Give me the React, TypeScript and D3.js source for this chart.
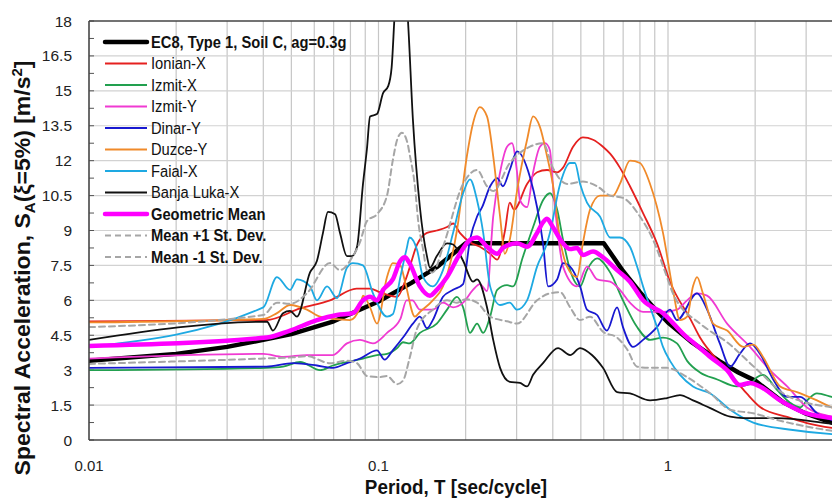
import React from 'react';
import * as d3 from 'd3';

type Pt = [number, number];

const yTicks = [0, 1.5, 3, 4.5, 6, 7.5, 9, 10.5, 12, 13.5, 15, 16.5, 18];
const xTickLabels = [0.01, 0.1, 1];

const ec8: Pt[] = [[0.01,3.4],[0.02,3.7],[0.03,4.0],[0.04,4.3],[0.05,4.55],[0.07,5.1],[0.1,5.95],[0.13,6.75],[0.16,7.45],[0.2,8.45],[0.6,8.45],[0.7,7.25],[0.8,6.35],[0.9,5.64],[1.0,5.05],[1.2,4.23],[1.5,3.4],[1.75,2.9],[2.0,2.55],[2.5,1.62],[3.0,1.13],[3.68,0.75],[4.5,0.5]];

const ionianX: Pt[] = [[0.01,5.1],[0.041,5.15],[0.0536,5.65],[0.068,6.0],[0.084,6.5],[0.0935,6.5],[0.101,6.35],[0.116,6.15],[0.125,7.0],[0.136,8.4],[0.147,8.9],[0.159,9.0],[0.1725,9.15],[0.181,9.3],[0.191,8.9],[0.207,8.5],[0.224,8.3],[0.243,8.0],[0.257,7.75],[0.2735,9.0],[0.284,10.2],[0.294,9.9],[0.326,11.0],[0.353,11.5],[0.382,11.6],[0.414,11.5],[0.434,11.7],[0.47,12.6],[0.508,13.0],[0.551,12.9],[0.596,12.6],[0.631,12.3],[0.682,11.7],[0.739,10.9],[0.82,9.75],[0.916,8.45],[1.016,6.8],[1.2,5.15],[1.29,4.4],[1.48,3.44],[1.6,3.0],[1.87,2.0],[2.08,1.42],[2.58,0.99],[3.02,0.73],[3.68,0.52],[4.5,0.4]];

const izmitX: Pt[] = [[0.01,3.0],[0.041,3.1],[0.0468,3.15],[0.0536,3.35],[0.0628,3.0],[0.0696,3.2],[0.0778,3.35],[0.0884,3.5],[0.0988,3.65],[0.107,3.7],[0.116,3.95],[0.1215,4.2],[0.128,4.15],[0.139,4.6],[0.159,5.0],[0.1725,5.6],[0.1866,6.15],[0.196,5.7],[0.207,4.6],[0.219,5.0],[0.23,4.6],[0.243,5.3],[0.257,6.45],[0.278,6.65],[0.2915,6.6],[0.315,7.85],[0.342,9.15],[0.37,10.3],[0.391,10.6],[0.414,9.9],[0.434,8.6],[0.459,7.3],[0.497,6.6],[0.525,7.3],[0.569,7.8],[0.631,7.2],[0.699,6.0],[0.782,4.85],[0.867,4.3],[0.961,4.4],[1.074,4.15],[1.164,3.4],[1.29,2.9],[1.48,2.6],[1.73,2.3],[1.92,2.4],[2.03,2.7],[2.13,2.8],[2.38,2.15],[2.64,1.6],[2.86,1.4],[3.02,1.7],[3.27,2.0],[3.68,1.85],[4.5,1.6]];

const izmitY: Pt[] = [[0.01,3.5],[0.04,3.7],[0.0468,3.57],[0.0566,3.65],[0.0696,3.65],[0.0778,4.15],[0.0863,4.3],[0.0957,4.15],[0.107,4.6],[0.119,5.2],[0.125,6.0],[0.131,6.0],[0.139,5.6],[0.154,5.6],[0.167,5.9],[0.181,5.7],[0.196,5.9],[0.212,6.45],[0.224,6.7],[0.237,6.4],[0.249,9.6],[0.263,11.5],[0.278,12.6],[0.289,12.75],[0.301,11.5],[0.308,10.3],[0.326,10.0],[0.342,11.5],[0.361,12.6],[0.376,12.75],[0.391,12.45],[0.4,11.0],[0.414,9.15],[0.434,7.45],[0.485,6.6],[0.525,7.45],[0.569,6.9],[0.631,6.8],[0.682,6.45],[0.739,5.9],[0.82,5.5],[0.961,5.5],[1.074,5.6],[1.164,6.0],[1.26,6.3],[1.365,6.2],[1.6,5.0],[1.92,4.0],[2.25,3.0],[2.58,2.3],[3.02,1.4],[3.68,1.0],[4.5,0.8]];

const dinarY: Pt[] = [[0.01,3.1],[0.041,3.15],[0.0507,3.3],[0.0613,3.2],[0.0696,3.1],[0.0778,3.3],[0.0863,3.5],[0.0988,3.85],[0.105,3.45],[0.112,3.85],[0.1215,4.4],[0.1315,5.0],[0.139,5.3],[0.147,4.8],[0.154,5.15],[0.167,6.15],[0.181,6.45],[0.196,6.7],[0.207,8.6],[0.219,9.6],[0.228,10.0],[0.243,10.9],[0.257,11.25],[0.269,10.9],[0.284,11.6],[0.301,12.4],[0.3335,11.3],[0.353,10.0],[0.37,8.45],[0.385,6.6],[0.414,6.9],[0.434,7.6],[0.459,7.45],[0.497,6.6],[0.525,5.6],[0.569,5.37],[0.615,4.7],[0.667,5.7],[0.699,4.85],[0.757,4.0],[0.82,4.3],[0.916,4.85],[1.016,5.6],[1.074,5.15],[1.26,6.3],[1.365,5.6],[1.51,4.15],[1.64,3.15],[1.77,3.7],[1.92,4.15],[2.08,3.7],[2.31,2.6],[2.58,1.85],[2.86,1.85],[3.27,1.15],[3.68,0.86],[4.5,0.6]];

const duzceY: Pt[] = [[0.01,5.05],[0.04,5.2],[0.0446,5.45],[0.0495,5.8],[0.0566,5.6],[0.0628,5.3],[0.0797,5.15],[0.0863,5.7],[0.0884,6.2],[0.0935,5.7],[0.0988,5.0],[0.107,7.0],[0.112,7.6],[0.119,7.5],[0.1235,6.8],[0.1336,5.3],[0.139,5.5],[0.154,6.0],[0.167,6.6],[0.1866,9.0],[0.202,12.2],[0.212,13.6],[0.224,14.3],[0.237,13.9],[0.249,12.2],[0.263,9.6],[0.273,8.0],[0.284,8.6],[0.301,10.7],[0.326,12.9],[0.342,13.9],[0.361,13.45],[0.382,12.2],[0.4,11.0],[0.424,8.6],[0.448,7.45],[0.485,7.0],[0.508,8.45],[0.538,9.9],[0.582,10.5],[0.646,10.5],[0.682,11.0],[0.739,12.0],[0.8,11.9],[0.867,11.0],[0.961,8.9],[1.04,6.45],[1.1,5.15],[1.164,5.3],[1.22,6.6],[1.26,7.0],[1.32,6.3],[1.43,5.0],[1.6,4.7],[1.82,4.0],[1.97,4.1],[2.13,3.57],[2.44,2.3],[2.79,2.06],[3.27,1.7],[3.68,1.4],[4.5,1.1]];

const faialX: Pt[] = [[0.01,4.0],[0.04,5.7],[0.0446,7.0],[0.0495,6.45],[0.0523,6.9],[0.058,6.6],[0.0613,6.0],[0.0664,6.6],[0.0719,6.1],[0.0778,7.4],[0.0816,7.6],[0.0884,7.5],[0.0957,6.3],[0.107,5.3],[0.112,5.4],[0.119,7.0],[0.125,8.2],[0.128,8.7],[0.136,8.15],[0.1425,7.0],[0.154,6.6],[0.167,7.3],[0.181,8.9],[0.196,10.6],[0.207,11.2],[0.219,10.3],[0.23,8.9],[0.243,6.6],[0.263,5.8],[0.284,5.9],[0.301,5.6],[0.326,6.0],[0.353,7.45],[0.382,8.45],[0.391,8.9],[0.424,11.0],[0.459,11.9],[0.477,11.9],[0.497,11.0],[0.525,10.2],[0.582,9.6],[0.631,8.7],[0.682,8.7],[0.739,8.3],[0.782,7.45],[0.82,6.6],[0.916,4.85],[0.961,4.0],[1.016,3.4],[1.1,2.8],[1.22,2.3],[1.4,2.0],[1.64,1.3],[1.97,0.75],[2.7,0.43],[3.68,0.25],[4.5,0.2]];

const banjaLukaX: Pt[] = [[0.01,4.3],[0.0412,5.08],[0.0432,4.7],[0.0468,5.45],[0.0495,5.55],[0.0523,5.3],[0.058,7.2],[0.0613,7.7],[0.0643,8.9],[0.0669,9.8],[0.0708,9.7],[0.0736,8.9],[0.0778,7.9],[0.081,7.9],[0.0843,8.3],[0.0884,11.0],[0.0912,12.5],[0.0935,13.9],[0.0988,14.0],[0.1037,14.9],[0.108,15.2],[0.111,16.0],[0.114,18.5],[0.12,20.5],[0.126,18.3],[0.1315,13.75],[0.139,10.0],[0.147,7.9],[0.1506,7.4],[0.159,7.9],[0.1725,8.45],[0.181,8.4],[0.196,7.7],[0.212,6.8],[0.219,6.9],[0.237,5.7],[0.249,4.3],[0.263,3.1],[0.284,2.5],[0.308,2.45],[0.326,2.3],[0.342,2.8],[0.37,3.3],[0.417,3.95],[0.459,3.65],[0.497,3.95],[0.546,3.65],[0.596,3.1],[0.667,2.06],[0.739,2.0],[0.867,1.7],[0.992,1.8],[1.1,1.93],[1.22,1.7],[1.4,1.37],[1.64,1.0],[1.82,0.94],[2.38,0.94],[3.68,0.7],[4.5,0.6]];

const geoMean: Pt[] = [[0.01,4.04],[0.0412,4.4],[0.0495,4.7],[0.0613,5.15],[0.0719,5.37],[0.0816,5.45],[0.0884,6.0],[0.0935,6.15],[0.0988,6.0],[0.1037,6.45],[0.112,6.9],[0.119,7.7],[0.1235,7.85],[0.128,7.6],[0.139,6.6],[0.1506,6.2],[0.159,6.45],[0.1725,7.0],[0.191,8.0],[0.207,8.6],[0.219,8.7],[0.237,8.3],[0.257,8.0],[0.269,8.25],[0.301,8.45],[0.326,8.3],[0.353,8.9],[0.37,9.35],[0.382,9.5],[0.4,9.15],[0.434,8.45],[0.459,8.2],[0.485,8.25],[0.508,7.95],[0.551,8.1],[0.596,7.85],[0.667,7.3],[0.739,6.8],[0.82,6.0],[0.961,5.45],[1.164,4.4],[1.22,4.2],[1.4,3.57],[1.6,3.0],[1.77,2.36],[1.92,2.45],[2.08,2.3],[2.44,1.7],[2.92,1.2],[3.68,0.94],[4.5,0.75]];

const meanPlus: Pt[] = [[0.01,4.85],[0.04,5.37],[0.0446,5.9],[0.0495,5.85],[0.0566,6.3],[0.068,7.6],[0.0736,7.3],[0.0816,7.9],[0.0863,8.5],[0.0912,9.4],[0.0988,9.7],[0.107,10.5],[0.112,12.0],[0.116,12.9],[0.1205,13.2],[0.126,12.75],[0.128,12.3],[0.1336,10.9],[0.137,9.45],[0.1425,8.2],[0.147,7.3],[0.154,7.2],[0.167,8.3],[0.196,11.0],[0.219,11.6],[0.237,10.9],[0.249,10.7],[0.284,11.9],[0.3335,12.6],[0.37,12.75],[0.4,11.7],[0.448,11.0],[0.508,11.1],[0.569,10.9],[0.631,10.5],[0.699,10.4],[0.8,9.6],[0.888,8.6],[0.992,7.0],[1.04,6.3],[1.29,5.0],[1.43,4.6],[1.6,4.2],[1.92,3.3],[2.08,2.9],[2.5,2.0],[3.02,1.6],[3.68,1.4],[4.5,1.2]];

const meanMinus: Pt[] = [[0.01,3.27],[0.04,3.5],[0.0507,3.55],[0.0566,3.6],[0.068,3.3],[0.0778,3.4],[0.0843,3.3],[0.0912,2.75],[0.101,2.7],[0.107,2.75],[0.116,2.4],[0.1215,2.55],[0.128,3.5],[0.136,4.8],[0.154,5.6],[0.1725,6.0],[0.1866,5.9],[0.2,6.05],[0.219,5.9],[0.243,5.3],[0.278,5.1],[0.301,5.0],[0.353,6.0],[0.391,6.3],[0.424,6.35],[0.459,5.7],[0.497,5.15],[0.538,5.3],[0.596,4.65],[0.667,4.4],[0.722,3.9],[0.782,3.15],[0.867,3.1],[0.992,3.1],[1.164,2.7],[1.4,2.0],[1.64,1.3],[1.97,1.15],[2.38,0.86],[2.7,0.7],[3.68,0.4],[4.5,0.3]];

type Series = { name: string; data: Pt[]; color: string; width: number; dash?: string; bold?: boolean; linear?: boolean };

const series: Series[] = [
  { name: 'EC8, Type 1, Soil C, ag=0.3g', data: ec8, color: '#000000', width: 4.5, bold: true, linear: true },
  { name: 'Ionian-X', data: ionianX, color: '#e5201f', width: 1.8 },
  { name: 'Izmit-X', data: izmitX, color: '#22a04f', width: 1.8 },
  { name: 'Izmit-Y', data: izmitY, color: '#f03ad2', width: 1.8 },
  { name: 'Dinar-Y', data: dinarY, color: '#1818d0', width: 1.8 },
  { name: 'Duzce-Y', data: duzceY, color: '#f08a2a', width: 1.8 },
  { name: 'Faial-X', data: faialX, color: '#1ea9e2', width: 1.8 },
  { name: 'Banja Luka-X', data: banjaLukaX, color: '#111111', width: 1.8 },
  { name: 'Geometric Mean', data: geoMean, color: '#ff00ff', width: 4.5, bold: true },
  { name: 'Mean +1 St. Dev.', data: meanPlus, color: '#a6a6a6', width: 2, dash: '6 4', bold: true },
  { name: 'Mean -1 St. Dev.', data: meanMinus, color: '#a6a6a6', width: 2, dash: '6 4', bold: true },
];

const FONT = '"Liberation Sans", Arial, sans-serif';

export default function App() {
  const W = 832, H = 498;
  const left = 89, top = 21, bottom = 440, right = 832;
  const x = d3.scaleLog().domain([0.01, 5]).range([left, left + 289.5 * Math.log10(500)]);
  const y = d3.scaleLinear().domain([0, 18]).range([bottom, top]);

  const gridX = x.ticks().filter((t) => x(t) <= right);
  const gridY = yTicks.filter((v) => v > 0 && v < 18);
  const minorY = d3.range(0, 18.01, 0.75);

  const lineFor = (s: Series) =>
    d3.line<Pt>()
      .x((d) => x(d[0]))
      .y((d) => y(d[1]))
      .curve(s.linear ? d3.curveLinear : d3.curveMonotoneX)(s.data) || '';

  const legendY0 = 42, legendStep = 21.5;

  return (
    <svg width={W} height={H} style={{ position: 'absolute', left: 0, top: 0, background: '#fff' }} fontFamily={FONT}>
      <defs>
        <clipPath id="plot">
          <rect x={left} y={top} width={right - left} height={bottom - top} />
        </clipPath>
      </defs>
      <rect x={0} y={0} width={W} height={H} fill="#fff" />
      {gridX.map((t) => (
        <line key={'gx' + t} x1={x(t)} x2={x(t)} y1={top} y2={bottom} stroke="#c6c6c6" strokeWidth={1.2} />
      ))}
      {gridY.map((v) => (
        <line key={'gy' + v} x1={left} x2={right} y1={y(v)} y2={y(v)} stroke="#d2d2d2" strokeWidth={1.2} />
      ))}
      {minorY.map((v) => (
        <line key={'my' + v} x1={left} x2={left + 5} y1={y(v)} y2={y(v)} stroke="#555" strokeWidth={1} />
      ))}
      <g clipPath="url(#plot)">
        {series.map((s) => (
          <path key={s.name} d={lineFor(s)} fill="none" stroke={s.color} strokeWidth={s.width}
            strokeDasharray={s.dash} strokeLinejoin="round" strokeLinecap="round" />
        ))}
      </g>
      <line x1={left} x2={right} y1={top} y2={top} stroke="#444" strokeWidth={1.5} />
      <line x1={left} x2={left} y1={top} y2={bottom} stroke="#444" strokeWidth={1.5} />
      <line x1={left} x2={right} y1={bottom} y2={bottom} stroke="#444" strokeWidth={1.5} />

      {yTicks.map((v) => (
        <text key={'yl' + v} x={72} y={y(v)} dy="0.36em" textAnchor="end" fontSize={15.5} fill="#222">
          {String(v)}
        </text>
      ))}
      {xTickLabels.map((t) => (
        <text key={'xl' + t} x={x(t)} y={471} textAnchor="middle" fontSize={15} fill="#222">
          {String(t)}
        </text>
      ))}

      <g transform="translate(456,494) scale(0.92,1)">
        <text x={0} y={0} textAnchor="middle" fontSize={20.5} fontWeight="bold" fill="#111">
          Period, T [sec/cycle]
        </text>
      </g>
      <g transform="translate(30,268) rotate(-90) scale(1,0.92)">
        <text x={0} y={0} textAnchor="middle" fontSize={23} fontWeight="bold" fill="#111">
          Spectral Acceleration, S
          <tspan fontSize={15} dy={5}>A</tspan>
          <tspan dy={-5}>(ξ=5%) [m/s</tspan>
          <tspan fontSize={15} dy={-9}>2</tspan>
          <tspan dy={9}>]</tspan>
        </text>
      </g>

      {series.map((s, i) => {
        const yy = legendY0 + i * legendStep;
        return (
          <g key={'lg' + s.name}>
            <line x1={105} x2={147} y1={yy} y2={yy} stroke={s.color} strokeWidth={s.width}
              strokeDasharray={s.dash} strokeLinecap={s.width > 3 ? 'round' : 'butt'} />
            <g transform={`translate(151,${yy}) scale(0.92,1)`}>
              <text x={0} y={0} dy="0.36em" fontSize={16} fontWeight={s.bold ? 'bold' : 'normal'} fill="#111">
                {s.name}
              </text>
            </g>
          </g>
        );
      })}
    </svg>
  );
}
